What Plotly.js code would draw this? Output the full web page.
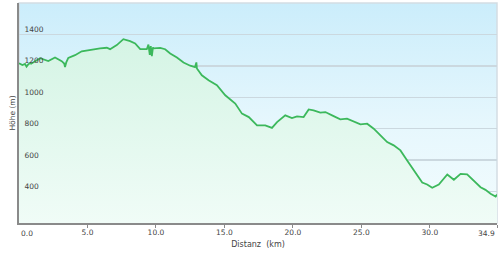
<!DOCTYPE html>
<html>
<head>
<meta charset="utf-8">
<script src="https://cdn.plot.ly/plotly-3.0.1.min.js"></script>
<style>html,body{margin:0;padding:0;background:#fff;}#chart{width:500px;height:255px;}</style>
</head>
<body>
<div id="chart"></div>
<script>
const distanceKm = [0.00,0.25,0.44,0.55,0.66,0.80,0.88,1.17,1.54,2.14,2.63,3.12,3.30,3.36,3.45,3.60,4.09,4.58,5.31,5.92,6.41,6.65,7.14,7.62,8.11,8.48,8.85,9.33,9.45,9.55,9.62,9.70,9.78,9.82,10.31,10.67,11.04,11.53,12.01,12.50,12.85,12.95,12.99,13.35,13.84,14.45,15.06,15.79,16.28,16.78,17.38,17.98,18.47,18.84,19.44,19.93,20.30,20.78,21.15,21.51,22.00,22.37,22.86,23.46,23.95,24.44,24.93,25.42,25.90,26.39,26.88,27.36,27.85,28.34,28.95,29.44,29.80,30.17,30.65,31.27,31.75,32.24,32.72,33.21,33.70,34.06,34.43,34.80,34.90];
const elevationM = [1217,1205,1212,1195,1208,1218,1214,1230,1249,1230,1253,1230,1215,1193,1222,1251,1268,1293,1304,1311,1315,1306,1332,1370,1357,1343,1306,1306,1335,1270,1325,1262,1318,1311,1315,1306,1279,1253,1221,1201,1192,1222,1183,1140,1108,1077,1013,960,896,874,821,821,805,842,885,868,879,874,923,917,902,906,885,860,864,847,828,832,800,758,715,694,662,598,523,458,445,424,445,509,475,513,509,466,428,411,386,368,381];
const yTickVals = [400,600,800,1000,1200,1400];
const xTickVals = [0,5,10,15,20,25,30,34.9];
const xTickText = ['0.0','5.0','10.0','15.0','20.0','25.0','30.0','34.9'];

const bgSvg = "<svg xmlns='http://www.w3.org/2000/svg' width='100' height='100' viewBox='0 0 100 100' preserveAspectRatio='none'><defs><linearGradient id='g' x1='0' y1='0' x2='0' y2='1'><stop offset='0' stop-color='#cbedfb'/><stop offset='0.55' stop-color='#e6f7fd'/><stop offset='1' stop-color='#f3fcfe'/></linearGradient></defs><rect width='100' height='100' fill='url(#g)'/></svg>";

const fam = 'DejaVu Sans, Verdana, sans-serif';
const tickFont = {family: fam, size: 7.5, color: '#444'};

const trace = {
  x: distanceKm, y: elevationM, type: 'scatter', mode: 'lines',
  line: {color: '#3cb85c', width: 1.8},
  fill: 'tozeroy',
  fillgradient: {type: 'vertical', start: 200, stop: 1400,
    colorscale: [[0, '#f0fcf7'], [1, '#d4f4e4']]},
  hoverinfo: 'skip'
};

// end labels are aligned inward (left for the first, right for the last)
const n = xTickVals.length;
const annotations = [
  {x: xTickVals[0], xanchor: 'left', text: xTickText[0]},
  {x: xTickVals[n - 1], xanchor: 'right', text: xTickText[n - 1]}
].map(a => Object.assign(a, {xref: 'x', yref: 'paper', y: 0, yanchor: 'top', yshift: -4,
  showarrow: false, font: tickFont}));

const layout = {
  width: 500, height: 255,
  margin: {l: 19, r: 3, t: 3, b: 32, pad: 0},
  paper_bgcolor: '#ffffff',
  plot_bgcolor: 'rgba(0,0,0,0)',
  showlegend: false,
  font: tickFont,
  images: [{source: 'data:image/svg+xml;base64,' + btoa(bgSvg), xref: 'paper', yref: 'paper',
    x: 0, y: 1, sizex: 1, sizey: 1, xanchor: 'left', yanchor: 'top', sizing: 'stretch', layer: 'below'}],
  shapes: [{type: 'rect', xref: 'paper', yref: 'paper', x0: 0, x1: 1, y0: 0, y1: 1,
    line: {color: '#d3dde3', width: 1.5}, layer: 'below'}],
  annotations: annotations,
  xaxis: {
    range: [0, 34.9], tickvals: xTickVals,
    ticktext: xTickText.map((t, i) => (i === 0 || i === n - 1) ? '' : t),
    showgrid: false, zeroline: false,
    showline: true, linecolor: '#8a8a8a', linewidth: 2,
    ticks: 'outside', ticklen: 3, tickwidth: 1, tickcolor: '#8a8a8a',
    ticklabelstandoff: -2,
    tickfont: tickFont,
    title: {text: 'Distanz\u00a0 (km)', font: {family: fam, size: 8, color: '#444'}, standoff: 5}
  },
  yaxis: {
    range: [200, 1600], tickvals: yTickVals,
    showgrid: true, gridcolor: '#cbd8df', gridwidth: 1.5,
    zeroline: false,
    showline: true, linecolor: '#8a8a8a', linewidth: 2,
    ticks: '', ticklabelposition: 'inside', ticklabelstandoff: 4, ticklabelshift: -5,
    tickfont: tickFont,
    title: {text: 'Höhe (m)', font: {family: fam, size: 7.5, color: '#444'}, standoff: 8}
  }
};

Plotly.newPlot('chart', [trace], layout, {staticPlot: true, displayModeBar: false});
</script>
</body>
</html>
